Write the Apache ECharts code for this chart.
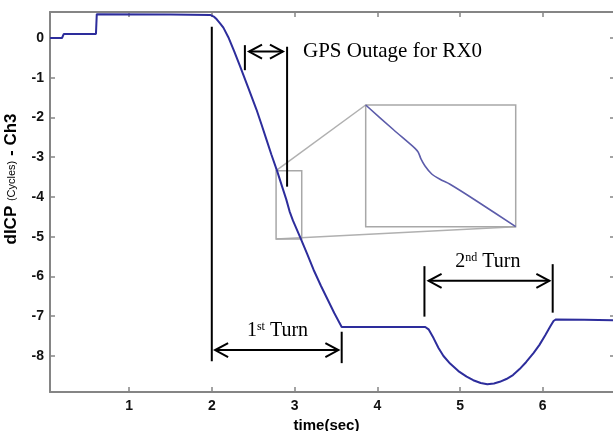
<!DOCTYPE html>
<html><head><meta charset="utf-8">
<script src="https://cdn.jsdelivr.net/npm/echarts@6/dist/echarts.min.js"></script>
<style>html,body{margin:0;padding:0;background:#fff}#c{width:613px;height:431px}</style>
</head><body><div id="c"></div>
<script>
// ---- data ----
const xTicks = [1, 2, 3, 4, 5, 6];
const yTicks = [-8, -7, -6, -5, -4, -3, -2, -1, 0];
const timeSec = [0.045,0.19,0.21,0.60,0.61,1.50,1.98,
  2.00,2.03,2.06,2.10,2.14,2.20,2.27,2.34,2.44,2.54,2.60,2.66,2.72,2.79,2.85,2.90,2.94,2.98,3.07,3.15,3.23,3.32,3.40,3.48,3.57,
  4.20,4.58,4.62,4.68,4.74,4.80,4.88,4.98,5.08,5.16,5.25,5.33,5.41,5.48,5.56,5.64,5.72,5.80,5.89,5.96,6.03,6.09,6.13,6.16,6.50,6.86];
const dicpCh3 = [0,0,0.1,0.1,0.6,0.59,0.58,
  0.57,0.53,0.47,0.37,0.26,0.02,-0.33,-0.70,-1.25,-1.80,-2.17,-2.55,-2.93,-3.35,-3.74,-4.06,-4.36,-4.59,-5.02,-5.42,-5.83,-6.24,-6.58,-6.92,-7.27,
  -7.27,-7.27,-7.33,-7.55,-7.80,-8.00,-8.19,-8.38,-8.52,-8.61,-8.68,-8.71,-8.69,-8.65,-8.58,-8.48,-8.33,-8.15,-7.92,-7.72,-7.48,-7.26,-7.12,-7.08,-7.09,-7.10];
// magnified inset curve (drawn in the inset box)
const insetX = [3.86,4.20,4.456,4.496,4.525,4.577,4.658,4.758,4.879,5.20,5.673];
const insetY = [-1.686,-2.315,-2.775,-2.875,-3.026,-3.220,-3.421,-3.555,-3.680,-4.10,-4.747];
// annotation geometry in data units
const markerLines = [[2.0,0.28,2.0,-8.13],[3.57,-7.39,3.57,-8.18],[2.40,-0.18,2.40,-0.81],[2.91,-0.22,2.91,-3.74],[4.57,-5.74,4.57,-7.01],[6.12,-5.69,6.12,-6.91]];
const doubleArrows = [[2.04,-7.85,3.53,-7.85],[2.45,-0.34,2.86,-0.34],[4.62,-6.11,6.08,-6.11]];
const insetRects = [[2.777,-3.338,3.087,-5.057],[3.860,-1.686,5.673,-4.747]];
const insetConnectors = [[2.777,-3.338,3.860,-1.686],[2.777,-5.057,5.673,-4.747]];
const labelTexts = ['GPS Outage for RX0', '1{sup|st} Turn', '2{sup|nd} Turn'];
const labelPos = [[3.102,-0.33,0],[2.794,-7.37,1],[5.337,-5.62,2]];
const labelAlign = ['left','center','center'];

const mainSeries = timeSec.map((t,i)=>[t, dicpCh3[i]]);
const insetSeries = insetX.map((t,i)=>[t, insetY[i]]);

const xMin = 0.0447, xMax = 6.873, yMin = -8.906, yMax = 0.654;
const axisGray = '#858585';

function segRender(color, width){
  return function(params, api){
    const a = api.coord([api.value(0), api.value(1)]);
    const b = api.coord([api.value(2), api.value(3)]);
    return {type:'line', shape:{x1:a[0],y1:a[1],x2:b[0],y2:b[1]}, style:{stroke:color, lineWidth:width}};
  };
}
function arrowRender(params, api){
  const a = api.coord([api.value(0), api.value(1)]);
  const b = api.coord([api.value(2), api.value(3)]);
  const L = 13, W = 7;
  const st = {stroke:'#000', lineWidth:2, fill:null};
  return {type:'group', children:[
    {type:'line', shape:{x1:a[0],y1:a[1],x2:b[0],y2:b[1]}, style:st},
    {type:'polyline', shape:{points:[[a[0]+L,a[1]-W],[a[0],a[1]],[a[0]+L,a[1]+W]]}, style:st},
    {type:'polyline', shape:{points:[[b[0]-L,b[1]-W],[b[0],b[1]],[b[0]-L,b[1]+W]]}, style:st}
  ]};
}
function rectRender(params, api){
  const a = api.coord([api.value(0), api.value(1)]);
  const b = api.coord([api.value(2), api.value(3)]);
  return {type:'rect', shape:{x:Math.min(a[0],b[0]), y:Math.min(a[1],b[1]), width:Math.abs(b[0]-a[0]), height:Math.abs(b[1]-a[1])},
    style:{stroke:'#a8a8a8', lineWidth:1.5, fill:null}};
}
function textRender(params, api){
  const p = api.coord([api.value(0), api.value(1)]);
  const idx = api.value(2);
  return {type:'text', x:p[0], y:p[1], style:{
    text: labelTexts[idx], fill:'#000', fontFamily:'Liberation Serif', fontSize: idx===0 ? 21 : 20,
    align: labelAlign[idx], verticalAlign:'middle',
    rich:{sup:{fontFamily:'Liberation Serif', fontSize:12, verticalAlign:'top', fill:'#000'}}
  }};
}

const chart = echarts.init(document.getElementById('c'), null, {renderer:'canvas'});
chart.setOption({
  animation:false,
  backgroundColor:'#fff',
  grid:{left:50, top:12, right:-2, bottom:39, containLabel:false, outerBoundsMode:'none'},
  xAxis:[{
    type:'value', min:xMin, max:xMax, position:'bottom',
    name:'time(sec)', nameLocation:'middle', nameGap:17,
    nameTextStyle:{fontFamily:'Liberation Sans', fontWeight:'bold', fontSize:15, color:'#000', padding:[0,12,0,0]},
    axisLine:{show:true, onZero:false, lineStyle:{color:axisGray, width:2}},
    axisTick:{show:true, inside:true, length:5, customValues:xTicks, lineStyle:{color:axisGray, width:1.5}},
    axisLabel:{show:true, customValues:xTicks, margin:7, fontFamily:'Liberation Sans', fontWeight:'bold', fontSize:14, color:'#111'},
    splitLine:{show:false}
  },{
    type:'value', min:xMin, max:xMax, position:'top',
    axisLine:{show:true, onZero:false, lineStyle:{color:axisGray, width:2}},
    axisTick:{show:true, inside:true, length:5, customValues:xTicks, lineStyle:{color:axisGray, width:1.5}},
    axisLabel:{show:false}, splitLine:{show:false}
  }],
  yAxis:[{
    type:'value', min:yMin, max:yMax, position:'left',
    name:'{b|dICP }{s|(Cycles)}{b| - Ch3}', nameLocation:'middle', nameGap:30,
    nameTextStyle:{padding:[0,0,0,46], rich:{
      b:{fontFamily:'Liberation Sans', fontWeight:'bold', fontSize:17, color:'#000'},
      s:{fontFamily:'Liberation Sans', fontSize:11, color:'#000', verticalAlign:'middle'}}},
    axisLine:{show:true, onZero:false, lineStyle:{color:axisGray, width:2}},
    axisTick:{show:true, inside:true, length:5, customValues:yTicks, lineStyle:{color:axisGray, width:1.5}},
    axisLabel:{show:true, customValues:yTicks, margin:6, fontFamily:'Liberation Sans', fontWeight:'bold', fontSize:14, color:'#111'},
    splitLine:{show:false}
  },{
    type:'value', min:yMin, max:yMax, position:'right',
    axisLine:{show:true, onZero:false, lineStyle:{color:axisGray, width:2}},
    axisTick:{show:true, inside:true, length:5, customValues:yTicks, lineStyle:{color:axisGray, width:1.5}},
    axisLabel:{show:false}, splitLine:{show:false}
  }],
  series:[
    {type:'custom', name:'connectors', renderItem:segRender('#b0b0b0',1.5), data:insetConnectors, encode:{x:[0,2], y:[1,3]}, z:1},
    {type:'custom', name:'insetRects', renderItem:rectRender, data:insetRects, encode:{x:[0,2], y:[1,3]}, z:1},
    {type:'line', name:'inset', data:insetSeries, showSymbol:false, smooth:0.25, lineStyle:{color:'#5c5caa', width:1.6}, z:2},
    {type:'line', name:'dICP', data:mainSeries, showSymbol:false, lineStyle:{color:'#2d2d9c', width:2}, z:3},
    {type:'custom', name:'markers', renderItem:segRender('#000',2), data:markerLines, encode:{x:[0,2], y:[1,3]}, z:4},
    {type:'custom', name:'arrows', renderItem:arrowRender, data:doubleArrows, encode:{x:[0,2], y:[1,3]}, z:4},
    {type:'custom', name:'labels', renderItem:textRender, data:labelPos, encode:{x:0, y:1}, z:5}
  ]
});
</script>
</body></html>
